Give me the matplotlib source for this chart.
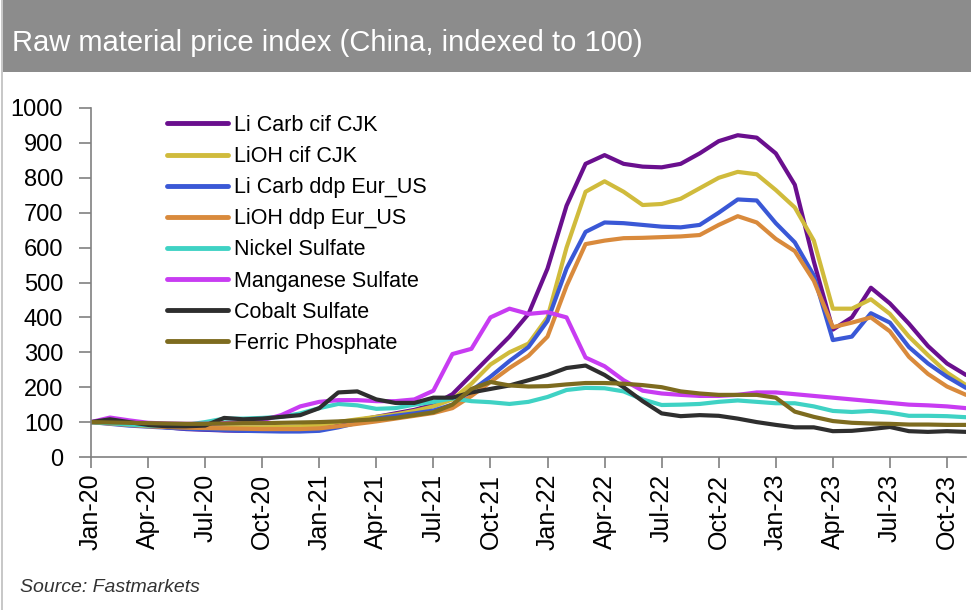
import matplotlib
matplotlib.use("Agg")
import matplotlib.pyplot as plt
from matplotlib.patches import Rectangle
from matplotlib.lines import Line2D

months = list(range(47))  # Jan-20 .. Nov-23, monthly
tick_pos = list(range(0, 46, 3))
tick_labels = ["Jan-20", "Apr-20", "Jul-20", "Oct-20", "Jan-21", "Apr-21", "Jul-21", "Oct-21",
               "Jan-22", "Apr-22", "Jul-22", "Oct-22", "Jan-23", "Apr-23", "Jul-23", "Oct-23"]

li_carb_cif = [100, 104, 95, 90, 85, 80, 78, 76, 75, 75, 75, 76, 80, 90, 105, 115, 125, 135, 150, 180,
               235, 290, 345, 410, 540, 720, 840, 865, 840, 832, 830, 840, 870, 905, 922, 915, 870, 780,
               560, 365, 400, 485, 440, 382, 318, 268, 235]
lioh_cif = [100, 97, 93, 90, 88, 86, 85, 85, 85, 85, 86, 88, 92, 100, 108, 115, 122, 132, 145, 165,
            210, 265, 300, 325, 400, 600, 760, 790, 760, 722, 725, 740, 770, 800, 817, 810, 765, 715,
            620, 425, 425, 452, 410, 345, 292, 242, 206]
li_carb_ddp = [100, 95, 90, 87, 84, 81, 79, 77, 75, 74, 73, 73, 75, 85, 98, 110, 118, 125, 133, 150,
               190, 230, 275, 315, 390, 540, 645, 672, 670, 665, 660, 658, 665, 700, 738, 735, 670, 615,
               520, 335, 345, 412, 385, 315, 268, 230, 198]
lioh_ddp = [100, 96, 92, 88, 86, 84, 83, 82, 81, 80, 80, 80, 82, 88, 95, 102, 110, 118, 126, 140,
            175, 215, 255, 290, 345, 490, 610, 620, 627, 628, 630, 632, 636, 665, 690, 672, 625, 590,
            505, 372, 385, 400, 360, 287, 238, 202, 178]
nickel = [100, 97, 93, 90, 90, 92, 100, 110, 110, 112, 115, 125, 140, 152, 148, 138, 140, 150, 158, 168,
          160, 157, 152, 158, 172, 192, 198, 197, 188, 165, 149, 150, 152, 158, 162, 158, 154, 154,
          145, 132, 129, 132, 127, 118, 118, 117, 114]
manganese = [100, 113, 105, 98, 96, 95, 95, 97, 100, 105, 120, 145, 158, 163, 163, 160, 160, 165, 190, 295,
             310, 400, 425, 410, 415, 400, 285, 260, 220, 190, 182, 178, 175, 175, 178, 185, 185, 180,
             175, 170, 165, 160, 155, 150, 148, 145, 140]
cobalt = [100, 108, 100, 92, 88, 88, 90, 112, 108, 110, 115, 120, 140, 185, 188, 165, 155, 155, 170, 170,
          185, 195, 205, 220, 235, 255, 262, 235, 200, 160, 125, 117, 120, 118, 110, 100, 92, 85,
          85, 74, 75, 80, 86, 74, 72, 74, 72]
ferric = [100, 99, 98, 97, 96, 95, 95, 96, 97, 97, 98, 99, 100, 102, 105, 108, 112, 120, 128, 150,
          195, 215, 205, 202, 203, 208, 212, 212, 210, 206, 200, 188, 182, 178, 178, 178, 170, 130,
          115, 103, 98, 96, 95, 93, 93, 92, 92]

series_names = ["Li Carb cif CJK", "LiOH cif CJK", "Li Carb ddp Eur_US", "LiOH ddp Eur_US",
                "Nickel Sulfate", "Manganese Sulfate", "Cobalt Sulfate", "Ferric Phosphate"]
series_values = [li_carb_cif, lioh_cif, li_carb_ddp, lioh_ddp, nickel, manganese, cobalt, ferric]
colors = ["#6a0f8e", "#d0bb3c", "#3a58d6", "#d98a3c", "#3fd2c4", "#c83cf2", "#2e2e2e", "#7d6b1f"]

FONT = ["Liberation Sans", "DejaVu Sans"]

fig = plt.figure(figsize=(9.71, 6.10), dpi=100)
fig.patch.set_facecolor("white")

# title bar
fig.patches.append(Rectangle((3 / 971, 1 - 72 / 610), 1, 72 / 610, transform=fig.transFigure,
                             facecolor="#8c8c8c", edgecolor="none", zorder=0))
fig.add_artist(Line2D([2 / 971, 2 / 971], [0, 1], transform=fig.transFigure, color="#bdbdbd", lw=1.2))
fig.text(12 / 971, 1 - 43 / 610, "Raw material price index (China, indexed to 100)", color="white",
         fontsize=21, family=FONT, va="center", ha="left")

ax = fig.add_axes([91 / 971, 1 - 457 / 610, (966 - 91) / 971, (457 - 108) / 610])
for name, vals, c in zip(series_names, series_values, colors):
    ax.plot(months, vals, color=c, lw=3.0, label=name, solid_capstyle="round", solid_joinstyle="round")

ax.set_xlim(0, 46)
ax.set_ylim(0, 1000)
ax.set_yticks(range(0, 1001, 100))
ax.set_xticks(tick_pos)
ax.set_xticklabels(tick_labels, rotation=90, family=FONT, fontsize=18)
for lab in ax.get_yticklabels():
    lab.set_family(FONT)
    lab.set_fontsize(17)
ax.spines["top"].set_visible(False)
ax.spines["right"].set_visible(False)
for s in ("left", "bottom"):
    ax.spines[s].set_color("#808080")
    ax.spines[s].set_linewidth(1.2)
ax.tick_params(axis="y", length=9, width=1.2, color="#808080", pad=11, labelcolor="black")
ax.tick_params(axis="x", length=8, width=1.2, color="#808080", pad=4, labelcolor="black")

leg = ax.legend(loc="upper left", bbox_to_anchor=(0.0869, 0.98), frameon=False,
                prop={"family": FONT, "size": 15.5}, handlelength=2.85, handletextpad=0.25,
                labelspacing=0.47, borderaxespad=0, borderpad=0)
for h in leg.get_lines():
    h.set_linewidth(3.5)

fig.text(20 / 971, 1 - 588 / 610, "Source: Fastmarkets", fontsize=14, family=FONT,
         style="italic", color="#333333", va="center", ha="left")

fig.savefig("out.png", dpi=100)
